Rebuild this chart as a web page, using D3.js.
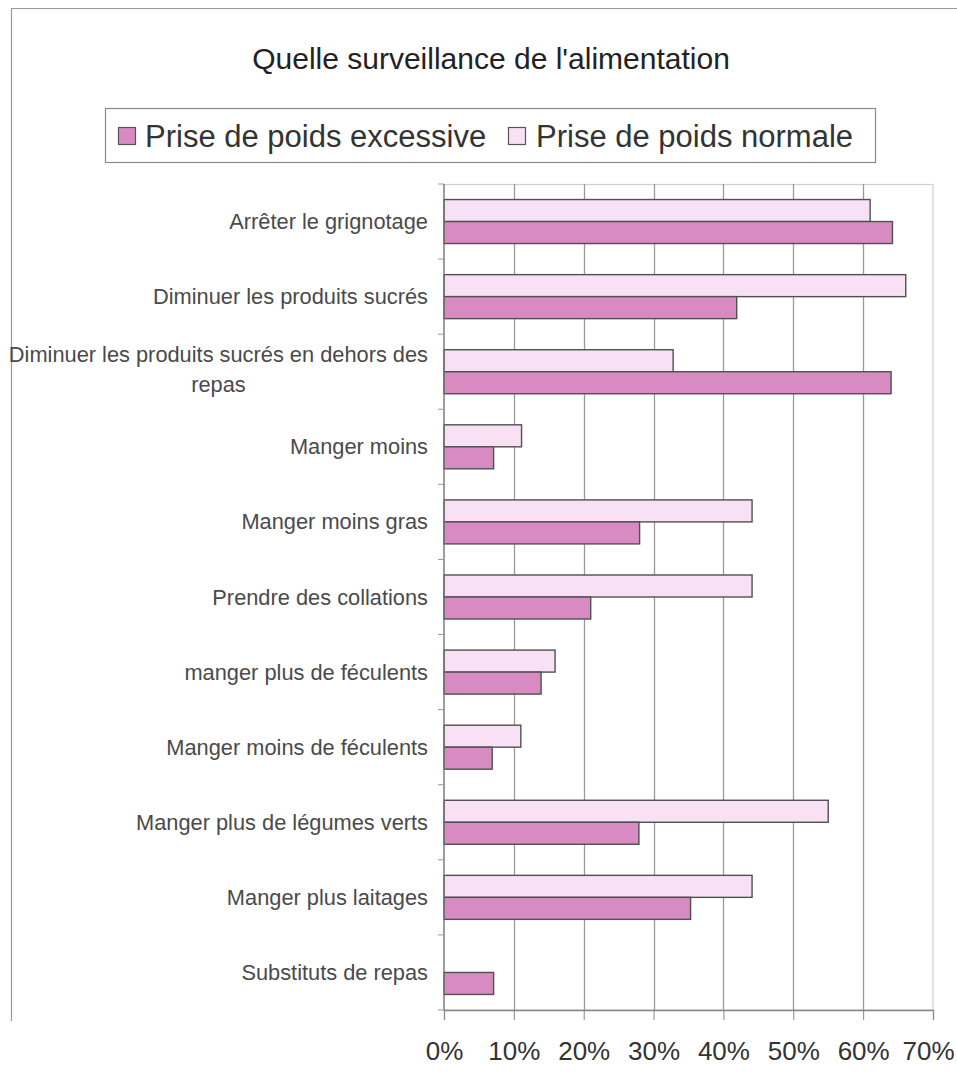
<!DOCTYPE html>
<html>
<head>
<meta charset="utf-8">
<script src="https://cdn.jsdelivr.net/npm/d3@7/dist/d3.min.js"></script>
<style>
  html, body { margin: 0; padding: 0; background: #fff; }
  svg { display: block; font-family: "Liberation Sans", Arial, sans-serif; }
</style>
</head>
<body>
<svg id="chart" width="957" height="1074"></svg>
<script>
const title = "Quelle surveillance de l'alimentation";
const categories = [
  ["Arrêter le grignotage"],
  ["Diminuer les produits sucrés"],
  ["Diminuer les produits sucrés en dehors des", "repas"],
  ["Manger moins"],
  ["Manger moins gras"],
  ["Prendre des collations"],
  ["manger plus de féculents"],
  ["Manger moins de féculents"],
  ["Manger plus de légumes verts"],
  ["Manger plus laitages"],
  ["Substituts de repas"]
];
const seriesNames = ["Prise de poids excessive", "Prise de poids normale"];
const excessive = [0.642, 0.419, 0.640, 0.071, 0.280, 0.210, 0.139, 0.069, 0.279, 0.353, 0.071];
const normale   = [0.610, 0.661, 0.328, 0.111, 0.441, 0.441, 0.159, 0.110, 0.550, 0.441, 0.0];
const xTicks = [0, 0.1, 0.2, 0.3, 0.4, 0.5, 0.6, 0.7];

const colExc = "#d78bc2";
const colNorm = "#f8e1f5";
const barStroke = "#505050";

const svg = d3.select("#chart");

// outer frame (top + left)
svg.append("path").attr("d", "M11,8.5 H957 M11.5,8 V1021")
  .attr("stroke", "#999").attr("fill", "none").attr("stroke-width", 1.2);

// title
svg.append("text").attr("x", 491).attr("y", 69).attr("text-anchor", "middle")
  .attr("font-size", 30).attr("fill", "#222").text(title);

// legend
const lg = svg.append("g");
lg.append("rect").attr("x", 105.5).attr("y", 108.5).attr("width", 770).attr("height", 54)
  .attr("fill", "#fff").attr("stroke", "#8a8a8a").attr("stroke-width", 1.2);
const legendItems = [
  {name: seriesNames[0], fill: colExc, sx: 118, tx: 145},
  {name: seriesNames[1], fill: colNorm, sx: 508, tx: 536}
];
legendItems.forEach(d => {
  lg.append("rect").attr("x", d.sx + 0.5).attr("y", 127.5).attr("width", 17).attr("height", 17)
    .attr("fill", d.fill).attr("stroke", "#555").attr("stroke-width", 1.2);
  lg.append("text").attr("x", d.tx).attr("y", 147).attr("font-size", 31)
    .attr("fill", "#333").text(d.name);
});

// scales
const x = d3.scaleLinear().domain([0, 0.7]).range([444, 933]);
const y = d3.scaleBand().domain(d3.range(categories.length)).range([184, 1010]).padding(0);
const barH = 22;

// plot border (light)
svg.append("rect").attr("x", x(0)).attr("y", 184.5).attr("width", x(0.7) - x(0)).attr("height", 1010 - 184.5)
  .attr("fill", "none").attr("stroke", "#cfcfcf").attr("stroke-width", 1.2);

// gridlines
svg.append("g").selectAll("line").data(xTicks.slice(1, -1)).join("line")
  .attr("x1", d => Math.round(x(d)) + 0.5).attr("x2", d => Math.round(x(d)) + 0.5)
  .attr("y1", 184).attr("y2", 1010)
  .attr("stroke", "#9a9a9a").attr("stroke-width", 1.3);

// bars
const rows = categories.map((c, i) => ({i, exc: excessive[i], norm: normale[i]}));
const bars = svg.append("g");
rows.forEach(r => {
  const cy = y(r.i) + y.bandwidth() / 2;
  if (r.norm > 0) {
    bars.append("rect").attr("x", x(0)).attr("y", cy - barH)
      .attr("width", x(r.norm) - x(0)).attr("height", barH)
      .attr("fill", colNorm).attr("stroke", barStroke).attr("stroke-width", 1.4);
  }
  bars.append("rect").attr("x", x(0)).attr("y", cy)
    .attr("width", x(r.exc) - x(0)).attr("height", barH)
    .attr("fill", colExc).attr("stroke", barStroke).attr("stroke-width", 1.4);
});

// x axis
const xAxis = d3.axisBottom(x).tickValues(xTicks).tickFormat(d3.format(".0%"))
  .tickSize(10).tickPadding(22);
const gx = svg.append("g").attr("transform", "translate(0,1010)").call(xAxis);
gx.select(".domain").attr("stroke", "#888").attr("stroke-width", 1.3);
gx.selectAll(".tick line").attr("stroke", "#888");
gx.selectAll(".tick text").attr("font-size", 26).attr("fill", "#333")
  .attr("font-family", "Liberation Sans, Arial, sans-serif")
  .attr("dx", d => d === 0.7 ? -5 : 0);

// y axis line + ticks at band boundaries
svg.append("line").attr("x1", x(0)).attr("x2", x(0)).attr("y1", 184).attr("y2", 1010)
  .attr("stroke", "#777").attr("stroke-width", 1.3);
svg.append("g").selectAll("line").data(d3.range(categories.length + 1)).join("line")
  .attr("x1", x(0) - 6).attr("x2", x(0))
  .attr("y1", d => 184 + d * y.bandwidth()).attr("y2", d => 184 + d * y.bandwidth())
  .attr("stroke", "#999");

// category labels
const labels = svg.append("g");
categories.forEach((lines, i) => {
  const cy = y(i) + y.bandwidth() / 2;
  const t = labels.append("text").attr("font-size", 21.8).attr("fill", "#4a4a4a");
  if (lines.length === 1) {
    t.attr("x", 428).attr("y", cy + 7.5).attr("text-anchor", "end").text(lines[0]);
  } else {
    t.attr("text-anchor", "middle");
    const spans = lines.map((s, k) => t.append("tspan").attr("y", cy - 10 + k * 30).text(s));
    const w = d3.max(spans.map(sp => sp.node().getComputedTextLength()));
    spans.forEach(sp => sp.attr("x", 428 - w / 2));
  }
});
</script>
</body>
</html>
